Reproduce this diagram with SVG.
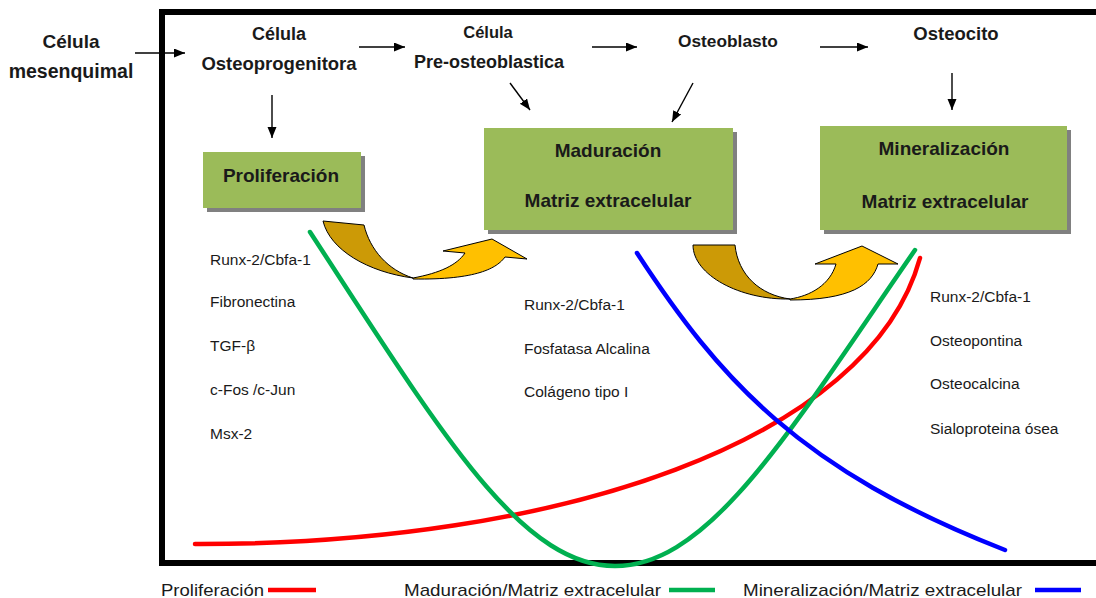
<svg xmlns="http://www.w3.org/2000/svg" width="1096" height="598" viewBox="0 0 1096 598">
<style>
  .hd { font-family: "Liberation Sans", Arial, sans-serif; font-weight: bold; fill: #1a1a1a; text-anchor: middle; }
  .gn { font-family: "Liberation Sans", Arial, sans-serif; font-size: 15.5px; fill: #1a1a1a; }
  .lg { font-family: "Liberation Sans", Arial, sans-serif; font-size: 17px; fill: #1a1a1a; }
  .box { fill: #9BBB59; }
  .shadow { fill: #808080; }
  .conn { stroke: #000; stroke-width: 1.4; fill: none; marker-end: url(#ah); }
  .curve { fill: none; stroke-width: 4.5; stroke-linecap: round; }
  .dark { fill: #CC9A06; stroke: #000; stroke-width: 1; }
  .light { fill: #FFC000; stroke: #000; stroke-width: 1; }
</style>
<defs>
  <marker id="ah" markerUnits="userSpaceOnUse" markerWidth="12" markerHeight="10" refX="11" refY="4.5" orient="auto">
    <path d="M0,0 L11,4.5 L0,9 z" fill="#000"/>
  </marker>
</defs>
<rect width="1096" height="598" fill="#fff"/>

<!-- frame -->
<rect x="162" y="12" width="1000" height="551" fill="none" stroke="#000" stroke-width="6"/>

<!-- header nodes -->
<g id="n-mesenquimal">
  <text class="hd" x="71" y="48" font-size="19">Célula</text>
  <text class="hd" x="71" y="78" font-size="19.5">mesenquimal</text>
</g>
<g id="n-osteoprogenitora">
  <text class="hd" x="279" y="40" font-size="18">Célula</text>
  <text class="hd" x="279" y="70" font-size="18.5">Osteoprogenitora</text>
</g>
<g id="n-preosteoblastica">
  <text class="hd" x="488" y="38" font-size="16.5">Célula</text>
  <text class="hd" x="489" y="68" font-size="18">Pre-osteoblastica</text>
</g>
<g id="n-osteoblasto">
  <text class="hd" x="728" y="47" font-size="17.3">Osteoblasto</text>
</g>
<g id="n-osteocito">
  <text class="hd" x="956" y="40" font-size="18.5">Osteocito</text>
</g>

<!-- boxes -->
<g id="n-proliferacion">
  <rect class="shadow" x="207" y="156" width="158" height="56"/>
  <rect class="box" x="203" y="152" width="158" height="56"/>
  <text class="hd" x="281" y="182" font-size="19">Proliferación</text>
</g>
<g id="n-maduracion">
  <rect class="shadow" x="488" y="132" width="249" height="102"/>
  <rect class="box" x="484" y="128" width="249" height="102"/>
  <text class="hd" x="608" y="157" font-size="19">Maduración</text>
  <text class="hd" x="608" y="207" font-size="19">Matriz extracelular</text>
</g>
<g id="n-mineralizacion">
  <rect class="shadow" x="824" y="130" width="247" height="104"/>
  <rect class="box" x="820" y="126" width="247" height="104"/>
  <text class="hd" x="944" y="155" font-size="19">Mineralización</text>
  <text class="hd" x="945" y="208" font-size="19">Matriz extracelular</text>
</g>

<!-- connectors -->
<g id="connectors">
  <line class="conn" x1="135" y1="53" x2="185" y2="53"/>
  <line class="conn" x1="359" y1="47" x2="405" y2="47"/>
  <line class="conn" x1="592" y1="47" x2="637" y2="47"/>
  <line class="conn" x1="820" y1="47" x2="868" y2="47"/>
  <line class="conn" x1="272" y1="95" x2="272" y2="138"/>
  <line class="conn" x1="510" y1="83" x2="530" y2="110"/>
  <line class="conn" x1="693" y1="83" x2="672" y2="122"/>
  <line class="conn" x1="952" y1="73" x2="952" y2="110"/>
</g>

<!-- curved block arrows -->
<g id="curved-arrow-1">
  <path class="dark" d="M323,221 L364,225 C370,250 388,270 413,278 C368,272 330,250 323,221 Z"/>
  <path class="light" d="M413,278 C440,273 457,265 465,253 L443,251 L492,239 L527,259 L505,257 C497,268 477,280 413,279 Z"/>
</g>
<g id="curved-arrow-2">
  <path class="dark" d="M693,245 L735,245 C738,275 760,295 790,299 C740,300 693,275 693,245 Z"/>
  <path class="light" d="M790,299 C810,296 830,285 836,264 L815,264 L862,246 L898,264 L878,264 C872,285 850,300 790,300 Z"/>
</g>

<!-- gene lists -->
<g id="genes-proliferacion">
  <text class="gn" x="210" y="265">Runx-2/Cbfa-1</text>
  <text class="gn" x="210" y="307">Fibronectina</text>
  <text class="gn" x="210" y="351">TGF-β</text>
  <text class="gn" x="210" y="395">c-Fos /c-Jun</text>
  <text class="gn" x="210" y="439">Msx-2</text>
</g>
<g id="genes-maduracion">
  <text class="gn" x="524" y="310">Runx-2/Cbfa-1</text>
  <text class="gn" x="524" y="354">Fosfatasa Alcalina</text>
  <text class="gn" x="524" y="397">Colágeno tipo I</text>
</g>
<g id="genes-mineralizacion">
  <text class="gn" x="930" y="302">Runx-2/Cbfa-1</text>
  <text class="gn" x="930" y="346">Osteopontina</text>
  <text class="gn" x="930" y="389">Osteocalcina</text>
  <text class="gn" x="930" y="434">Sialoproteina ósea</text>
</g>

<!-- expression curves -->
<g id="curves">
  <path class="curve" stroke="#FF0000" d="M195,544 C560,545 870,440 920,258"/>
  <path class="curve" stroke="#00B050" d="M310,232 C440,431 520,566 615,566 C710,566 790,431 915,250"/>
  <path class="curve" stroke="#0000FF" d="M637,253 C720,380 800,470 1005,550"/>
</g>

<!-- legend -->
<g id="legend">
  <text class="lg" x="161" y="596" textLength="103" lengthAdjust="spacingAndGlyphs">Proliferación</text>
  <line x1="268" y1="590" x2="316" y2="590" stroke="#FF0000" stroke-width="4.5"/>
  <text class="lg" x="404" y="596" textLength="257" lengthAdjust="spacingAndGlyphs">Maduración/Matriz extracelular</text>
  <line x1="669" y1="590" x2="715" y2="590" stroke="#00B050" stroke-width="4.5"/>
  <text class="lg" x="743" y="596" textLength="279" lengthAdjust="spacingAndGlyphs">Mineralización/Matriz extracelular</text>
  <line x1="1035" y1="590" x2="1081" y2="590" stroke="#0000FF" stroke-width="4.5"/>
</g>
</svg>
